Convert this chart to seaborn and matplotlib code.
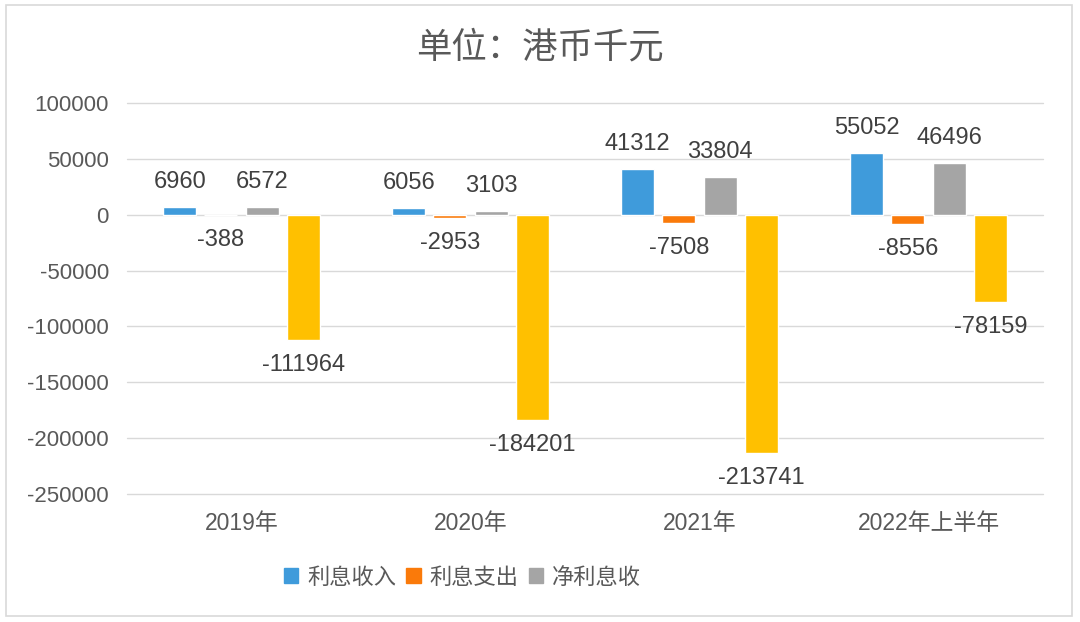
import pandas as pd
import matplotlib.pyplot as plt
import seaborn as sns
from matplotlib.patches import Rectangle

# Chart data (HKD thousands)
periods = ['2019年', '2020年', '2021年', '2022年上半年']
series_names = ['利息收入', '利息支出', '净利息收', '系列4']
interest_income = [6960, 6056, 41312, 55052]
interest_expense = [-388, -2953, -7508, -8556]
net_interest = [6572, 3103, 33804, 46496]
series_4 = [-111964, -184201, -213741, -78159]
colors = ['#3F9BDB', '#FA7A0A', '#A5A5A5', '#FFC000']
y_ticks = [100000, 50000, 0, -50000, -100000, -150000, -200000, -250000]

# Build long-form table for seaborn
rows = []
for name, vals in zip(series_names, [interest_income, interest_expense, net_interest, series_4]):
    for p, v in zip(periods, vals):
        rows.append({'period': p, 'series': name, 'value': v})
df = pd.DataFrame(rows)

sns.set_style('white')
plt.rcParams['font.family'] = ['Liberation Sans', 'Noto Sans CJK SC', 'DejaVu Sans']
plt.rcParams['axes.unicode_minus'] = False

fig = plt.figure(figsize=(10.8, 6.22), dpi=100)
ax = fig.add_axes([0.1176, 0.2058, 0.8481, 0.6286])

sns.barplot(data=df, x='period', y='value', hue='series', hue_order=series_names,
            palette=colors, width=0.72, gap=0.2, ax=ax, legend=False,
            saturation=1, errorbar=None)

ax.set_ylim(-250000, 100000)
ax.set_yticks(y_ticks)
ax.set_yticklabels([str(t) for t in y_ticks])
ax.set_xlim(-0.5, 3.5)
ax.grid(axis='y', color='#D9D9D9', linewidth=1)
for gl in ax.get_ygridlines():
    gl.set_clip_on(False)
ax.set_axisbelow(True)
for s in ax.spines.values():
    s.set_visible(False)
ax.tick_params(axis='y', length=0, labelsize=16, colors='#595959', pad=13)
ax.tick_params(axis='x', length=0, labelsize=16.5, colors='#595959', pad=13)
ax.set_xlabel('')
ax.set_ylabel('')

# Value labels
for cont in ax.containers:
    ax.bar_label(cont, labels=[f'{int(b.get_height())}' for b in cont],
                 padding=10, fontsize=17, color='#404040')

# Title
fig.text(0.5, 1 - 48 / 622, '单位：港币千元', ha='center', va='center',
         fontsize=25.5, color='#595959')

# Legend (only the entries visible in the reference)
handles = [Rectangle((0, 0), 1, 1, color=c) for c in colors[:3]]
fig.legend(handles, series_names[:3], loc='center left', ncol=3,
           bbox_to_anchor=(264 / 1080, 1 - 578 / 622), frameon=False,
           fontsize=16, handlelength=0.65, handleheight=0.65,
           handletextpad=0.4, columnspacing=0.45, labelcolor='#595959')

# Outer chart border
fig.patches.append(Rectangle((6 / 1080, 6 / 622), 1066 / 1080, 611 / 622,
                             transform=fig.transFigure, fill=False,
                             edgecolor='#D9D9D9', linewidth=1.2))

fig.savefig('out.png', dpi=100)
